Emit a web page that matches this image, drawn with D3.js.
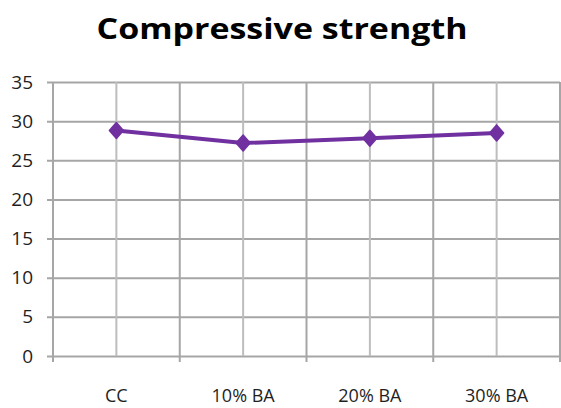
<!DOCTYPE html>
<html>
<head>
<meta charset="utf-8">
<script src="https://cdn.jsdelivr.net/npm/d3@7"></script>
<style>
  html, body { margin: 0; padding: 0; background: #fff; }
  svg { display: block; }
</style>
</head>
<body>
<svg id="chart" width="561" height="408"></svg>
<script>
// Compressive strength by mix
const categories = ["CC", "10% BA", "20% BA", "30% BA"];
const strength = [28.8, 27.2, 27.8, 28.5];
const yTicks = [0, 5, 10, 15, 20, 25, 30, 35];
const title = "Compressive strength";

const W = 561, H = 408;
const plot = { left: 53, right: 560, top: 82, bottom: 356 };
const svg = d3.select("#chart");

const x = d3.scaleBand().domain(categories).range([plot.left, plot.right]).padding(0);
const y = d3.scaleLinear().domain([0, 35]).range([plot.bottom, plot.top]);
const cx = d => x(d) + x.bandwidth() / 2;

const gridColor = "#a6a6a6";
const textColor = "#1f1f1f";
const lineColor = "#7030a0";

// Title
svg.append("text")
  .attr("x", 282).attr("y", 39)
  .attr("text-anchor", "middle")
  .attr("font-family", "'Open Sans', sans-serif")
  .attr("font-weight", 700)
  .attr("font-size", 29)
  .attr("textLength", 371)
  .attr("lengthAdjust", "spacingAndGlyphs")
  .attr("fill", "#000")
  .text(title);

// Horizontal gridlines + y axis labels
const yAxis = d3.axisLeft(y).tickValues(yTicks)
  .tickSize(-(plot.right - plot.left + 6)).tickPadding(14).tickFormat(d3.format("d"));
const gy = svg.append("g").attr("transform", `translate(${plot.left - 6},0)`).call(yAxis);
gy.select(".domain").remove();
gy.selectAll(".tick line").attr("stroke", gridColor).attr("stroke-width", 2);
gy.selectAll(".tick text")
  .attr("fill", textColor)
  .attr("font-family", "'Open Sans', sans-serif")
  .attr("font-size", 19);

// Vertical gridlines: band edges (with tick below axis) and band centres
const edges = categories.map(c => x(c)).concat([plot.right]);
svg.append("g").selectAll("line.edge").data(edges).join("line")
  .attr("x1", d => d).attr("x2", d => d)
  .attr("y1", plot.top).attr("y2", plot.bottom + 6)
  .attr("stroke", gridColor).attr("stroke-width", 2);
svg.append("g").selectAll("line.mid").data(categories).join("line")
  .attr("x1", d => cx(d)).attr("x2", d => cx(d))
  .attr("y1", plot.top).attr("y2", plot.bottom)
  .attr("stroke", "#bdbdbd").attr("stroke-width", 2);

// Category labels
svg.append("g").selectAll("text").data(categories).join("text")
  .attr("x", d => cx(d)).attr("y", 402)
  .attr("text-anchor", "middle")
  .attr("fill", textColor)
  .attr("font-family", "'Open Sans', sans-serif")
  .attr("font-size", 18)
  .text(d => d);

// Series line
const pts = categories.map((c, i) => [cx(c), y(strength[i])]);
svg.append("path")
  .attr("d", d3.line()(pts))
  .attr("fill", "none")
  .attr("stroke", lineColor)
  .attr("stroke-width", 4)
  .attr("stroke-linejoin", "round");

// Diamond markers
svg.append("g").selectAll("path").data(pts).join("path")
  .attr("transform", d => `translate(${d[0]},${d[1]})`)
  .attr("d", "M0,-8 L7,0 L0,8 L-7,0 Z")
  .attr("fill", lineColor)
  .attr("stroke", lineColor)
  .attr("stroke-width", 1.5)
  .attr("stroke-linejoin", "round");
</script>
</body>
</html>
